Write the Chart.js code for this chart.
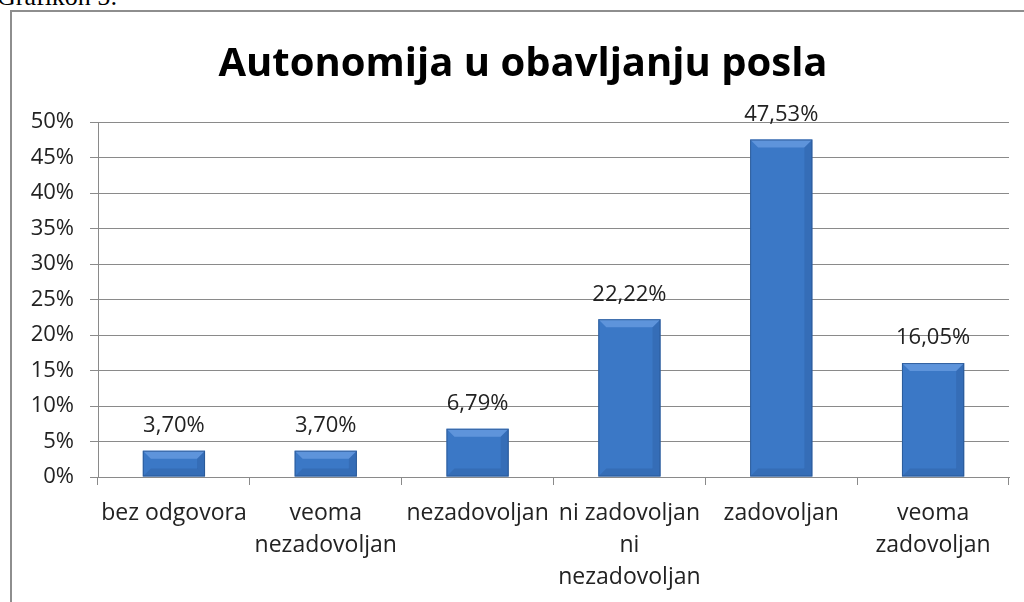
<!DOCTYPE html>
<html>
<head>
<meta charset="utf-8">
<script src="https://cdn.jsdelivr.net/npm/chart.js@4"></script>
<style>
  body { margin: 0; background: #fff; overflow: hidden; width: 1024px; height: 602px; position: relative; }
  .caption { position: absolute; left: -3px; top: -18px; font: 26px "Liberation Serif", serif; color: #000; }
  .frame { position: absolute; left: 10px; top: 10px; width: 1030px; height: 640px;
           border-top: 2px solid #8e8e8e; border-left: 2px solid #8e8e8e; }
  canvas { position: absolute; left: 0; top: 0; }
</style>
</head>
<body>
<div class="caption">Grafikon 5:</div>
<div class="frame">
  <canvas id="chart" width="1022" height="620"></canvas>
</div>
<script>
const categories = [
  "bez odgovora",
  ["veoma", "nezadovoljan"],
  "nezadovoljan",
  ["ni zadovoljan", "ni", "nezadovoljan"],
  "zadovoljan",
  ["veoma", "zadovoljan"]
];
const percentages = [3.70, 3.70, 6.79, 22.22, 47.53, 16.05];
const yMax = 50;
const yStep = 5;

const fontFamily = "'Open Sans', sans-serif";

// horizontal shading on each bar, darker at the edges
const barFill = (context) => {
  const el = context.element;
  const chart = context.chart;
  if (!el || el.width === undefined) return "#3b78c6";
  const left = el.x - el.width / 2;
  const g = chart.ctx.createLinearGradient(left, 0, left + el.width, 0);
  g.addColorStop(0, "#2c5fa4");
  g.addColorStop(0.14, "#3a77c5");
  g.addColorStop(0.5, "#3f7dcc");
  g.addColorStop(0.86, "#3a77c5");
  g.addColorStop(1, "#2a5a9c");
  return g;
};

// bevel on the bars plus value labels above them
const bevelAndLabels = {
  id: "bevelAndLabels",
  afterDatasetsDraw(chart) {
    const ctx = chart.ctx;
    const meta = chart.getDatasetMeta(0);
    meta.data.forEach((bar, i) => {
      const l = bar.x - bar.width / 2, r = bar.x + bar.width / 2;
      const t = bar.y, b = bar.base;
      const bv = Math.min(8, (b - t) / 3);
      ctx.save();
      ctx.fillStyle = "rgba(110,160,228,0.7)";
      ctx.beginPath();
      ctx.moveTo(l, t); ctx.lineTo(r, t); ctx.lineTo(r - bv, t + bv); ctx.lineTo(l + bv, t + bv);
      ctx.closePath(); ctx.fill();
      ctx.fillStyle = "rgba(25,60,110,0.18)";
      ctx.beginPath();
      ctx.moveTo(l, b); ctx.lineTo(r, b); ctx.lineTo(r - bv, b - bv); ctx.lineTo(l + bv, b - bv);
      ctx.closePath(); ctx.fill();
      ctx.fillStyle = "rgba(20,50,100,0.15)";
      ctx.beginPath();
      ctx.moveTo(r, t); ctx.lineTo(r, b); ctx.lineTo(r - bv, b - bv); ctx.lineTo(r - bv, t + bv);
      ctx.closePath(); ctx.fill();
      ctx.strokeStyle = "rgba(40,85,145,0.8)";
      ctx.lineWidth = 1;
      ctx.strokeRect(l + 0.5, t + 0.5, r - l - 1, b - t - 1);

      ctx.fillStyle = "#222";
      ctx.font = "22px " + fontFamily;
      ctx.textAlign = "center";
      ctx.textBaseline = "middle";
      ctx.fillText(percentages[i].toFixed(2).replace(".", ",") + "%", bar.x, t - 25);
      ctx.restore();
    });
  }
};

new Chart(document.getElementById("chart"), {
  type: "bar",
  data: {
    labels: categories,
    datasets: [{
      data: percentages,
      backgroundColor: barFill,
      borderWidth: 0,
      barPercentage: 0.41,
      categoryPercentage: 1
    }]
  },
  options: {
    responsive: false,
    animation: false,
    layout: { padding: 0 },
    plugins: {
      legend: { display: false },
      tooltip: { enabled: false },
      title: {
        display: true,
        text: "Autonomija u obavljanju posla",
        color: "#000",
        font: { family: fontFamily, size: 40, weight: "bold" },
        padding: { top: 29, bottom: 33 }
      }
    },
    scales: {
      x: {
        offset: true,
        grid: { offset: true, drawOnChartArea: false, drawTicks: true, tickLength: 8, color: "#8a8a8a" },
        border: { color: "#8a8a8a" },
        ticks: {
          color: "#222",
          padding: 12,
          maxRotation: 0,
          autoSkip: false,
          font: { family: fontFamily, size: 23, lineHeight: 1.4 }
        },
        afterFit: (scale) => { scale.height = 155; }
      },
      y: {
        min: 0,
        max: yMax,
        grid: { color: "#8a8a8a", tickLength: 8 },
        border: { color: "#8a8a8a" },
        ticks: {
          stepSize: yStep,
          color: "#222",
          padding: 16,
          font: { family: fontFamily, size: 22 },
          callback: (v) => v + "%"
        },
        afterFit: (scale) => { scale.width = 86; }
      },
      // empty right-hand gutter so the title stays centred on the whole frame
      gutter: {
        type: "linear",
        position: "right",
        grid: { display: false },
        border: { display: false },
        ticks: { display: false },
        afterFit: (scale) => { scale.width = 25; }
      }
    }
  },
  plugins: [bevelAndLabels]
});
</script>
</body>
</html>
